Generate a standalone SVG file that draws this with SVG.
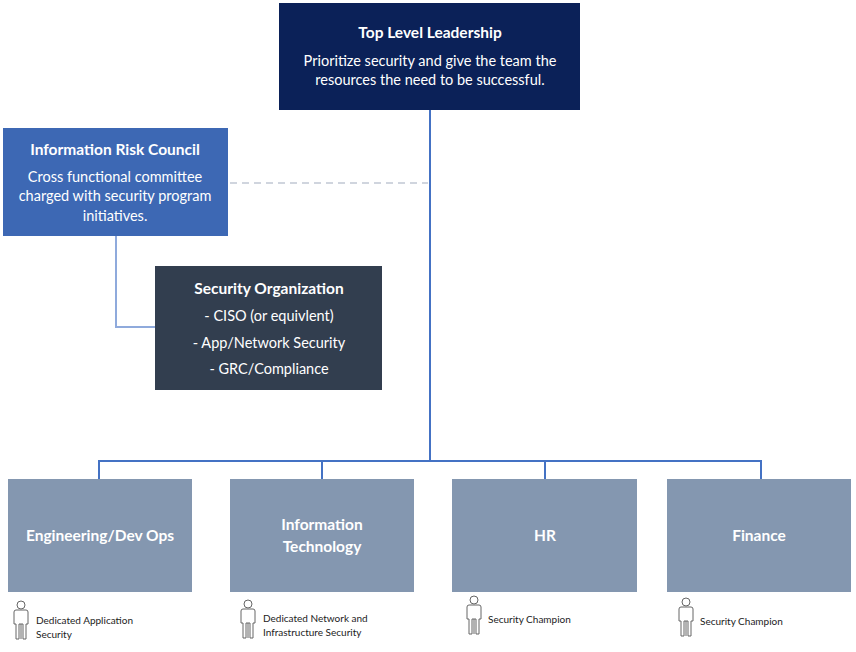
<svg xmlns="http://www.w3.org/2000/svg" width="856" height="652" viewBox="0 0 856 652">
<style>
text{font-family:Lato,"Open Sans",sans-serif;fill:#fff;text-anchor:middle}
.t{font-weight:bold;font-size:15.5px}
.b{font-size:14.5px}
.dept{font-weight:bold;font-size:15.5px}
.s{font-size:10px;fill:#222;text-anchor:start}
.c{fill:none;stroke:#4472c4;stroke-width:2}
.p{fill:none;stroke:#666;stroke-width:1}
</style>
<defs>
<g id="person" class="p">
<circle cx="0" cy="-14" r="4" fill="none" stroke="#666"/>
<path d="M-5,-9 h10 q2,0 2,2 v12 h-2 v15 h-3 v-15 h-4 v15 h-3 v-15 h-2 v-12 q0-2 2-2z M0,5 v15" fill="none" stroke="#666"/>
</g>
</defs>
<rect width="856" height="652" fill="#fff"/>
<g id="connectors">
<path class="c" d="M430,110 V461 M99,479 V461 H761 V479 M322,461 V479 M545,461 V479"/>
<path d="M230,183 H428" stroke="#d0d5de" stroke-width="2" stroke-dasharray="7,5" fill="none"/>
<path d="M116,236 V327 H155" stroke="#8faadc" stroke-width="2" fill="none"/>
</g>
<g id="top">
<rect x="279" y="3" width="301" height="107" fill="#0b2158"/>
<text class="t" x="430" y="38">Top Level Leadership</text>
<text class="b" x="430" y="66">Prioritize security and give the team the</text>
<text class="b" x="430" y="85">resources the need to be successful.</text>
</g>
<g id="irc">
<rect x="3" y="128" width="225" height="108" fill="#3d68b4"/>
<text class="t" x="115" y="155">Information Risk Council</text>
<text class="b" x="115" y="182">Cross functional committee</text>
<text class="b" x="115" y="201">charged with security program</text>
<text class="b" x="115" y="221">initiatives.</text>
</g>
<g id="secorg">
<rect x="155" y="266" width="227" height="124" fill="#323e4f"/>
<text class="t" x="269" y="294">Security Organization</text>
<text class="b" x="269" y="321">- CISO (or equivlent)</text>
<text class="b" x="269" y="348">- App/Network Security</text>
<text class="b" x="269" y="374">- GRC/Compliance</text>
</g>
<g id="eng">
<rect x="8" y="479" width="184" height="113" fill="#8497b0"/>
<text class="dept" x="100" y="541">Engineering/Dev Ops</text>
<use href="#person" x="21" y="619"/>
<text class="s" x="36" y="624">Dedicated Application</text>
<text class="s" x="36" y="638">Security</text>
</g>
<g id="it">
<rect x="230" y="479" width="184" height="113" fill="#8497b0"/>
<text class="dept" x="322" y="530">Information</text>
<text class="dept" x="322" y="552">Technology</text>
<use href="#person" x="248" y="618"/>
<text class="s" x="263" y="622">Dedicated Network and</text>
<text class="s" x="263" y="636">Infrastructure Security</text>
</g>
<g id="hr">
<rect x="452" y="479" width="185" height="113" fill="#8497b0"/>
<text class="dept" x="545" y="541">HR</text>
<use href="#person" x="474" y="614"/>
<text class="s" x="488" y="623">Security Champion</text>
</g>
<g id="finance">
<rect x="667" y="479" width="184" height="113" fill="#8497b0"/>
<text class="dept" x="759" y="541">Finance</text>
<use href="#person" x="686" y="616"/>
<text class="s" x="700" y="625">Security Champion</text>
</g>
</svg>
